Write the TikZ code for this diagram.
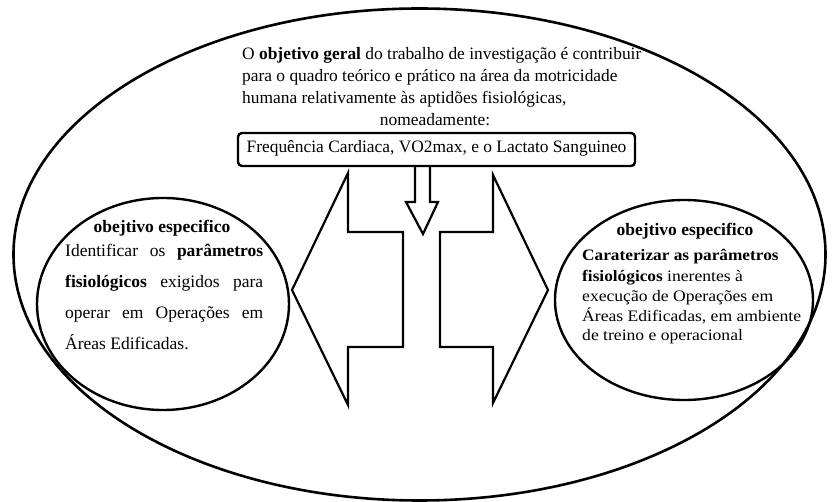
\documentclass[tikz,border=0pt]{standalone}
\usepackage{fontspec}
\setmainfont{Liberation Serif}
\newfontfamily\widefont[UprightFeatures={FakeStretch=1.1},BoldFeatures={FakeStretch=1.08}]{Liberation Serif}
\usetikzlibrary{shapes.geometric}
\begin{document}
\begin{tikzpicture}[x=1pt,y=-1pt,
  bigoval/.style={draw,ellipse,line width=2.6pt,inner sep=0pt},
  smalloval/.style={draw,ellipse,line width=2.4pt,inner sep=0pt},
  arrowshape/.style={draw,line width=2.2pt,line join=miter},
  txt/.style={inner sep=0pt,font=\fontsize{17.4}{22}\selectfont},
  ltxt/.style={inner sep=0pt,anchor=base west,font=\fontsize{17.5}{22}\selectfont},
  rtxt/.style={inner sep=0pt,anchor=base west,font=\widefont\fontsize{16}{20}\selectfont},
  boxstyle/.style={draw,line width=2.4pt,rounded corners=4pt,minimum width=397pt,minimum height=33pt,inner sep=0pt}]
\useasboundingbox (0,0) rectangle (839,502);
\node[bigoval,minimum width=812pt,minimum height=492pt] (outer) at (419.5,254.5) {};
\node[smalloval,minimum width=252pt,minimum height=212pt] (leftoval) at (163,304) {};
\node[smalloval,minimum width=258pt,minimum height=200pt] (rightoval) at (684,300) {};
% main text
\node[txt,anchor=base west] (goal1) at (242,60) {O \textbf{objetivo geral} do trabalho de investigação é contribuir};
\node[txt,anchor=base west] (goal2) at (242,82) {para o quadro teórico e prático na área da motricidade};
\node[txt,anchor=base west] (goal3) at (242,104) {humana relativamente às aptidões fisiológicas,};
\node[txt,anchor=base] (nomead) at (435,126) {nomeadamente:};
\node[boxstyle] (box) at (436.5,149.5) {};
\node[txt,anchor=base] (boxtxt) at (436.5,153) {Frequência Cardiaca, VO2max, e o Lactato Sanguineo};
% down arrow
\coordinate (dA) at (415,166);
\coordinate (dB) at (430,166);
\draw[arrowshape] (dA) -- (415,202) -- (406,202) -- (423,234) -- (438,202) -- (430,202) -- (dB);
% left arrow
\coordinate (ltip) at (292,290);
\draw[arrowshape] (ltip) -- (348,173) -- (348,232) -- (403,232) -- (403,347) -- (348,347) -- (348,405) -- cycle;
% right arrow
\coordinate (rtip) at (548,290);
\draw[arrowshape] (rtip) -- (493,175) -- (493,232) -- (440,232) -- (440,347) -- (493,347) -- (493,403) -- cycle;
% left oval text
\node[ltxt,anchor=base] (lhead) at (162,233) {\textbf{obejtivo especifico}};
\node[ltxt] (l1) at (65,257) {\makebox[198pt][s]{Identificar os \textbf{parâmetros}}};
\node[ltxt] (l2) at (65,288) {\makebox[198pt][s]{\textbf{fisiológicos} exigidos para}};
\node[ltxt] (l3) at (65,319) {\makebox[198pt][s]{operar em Operações em}};
\node[ltxt] (l4) at (65,350) {Áreas Edificadas.};
% right oval text
\node[ltxt,anchor=base] (rhead) at (685,236) {\textbf{obejtivo especifico}};
\node[rtxt] (r1) at (582,261) {\textbf{Caraterizar as parâmetros}};
\node[rtxt] (r2) at (582,282) {\textbf{fisiológicos} inerentes à};
\node[rtxt] (r3) at (582,302) {execução de Operações em};
\node[rtxt] (r4) at (582,322) {Áreas Edificadas, em ambiente};
\node[rtxt] (r5) at (582,341) {de treino e operacional};
\end{tikzpicture}
\end{document}
